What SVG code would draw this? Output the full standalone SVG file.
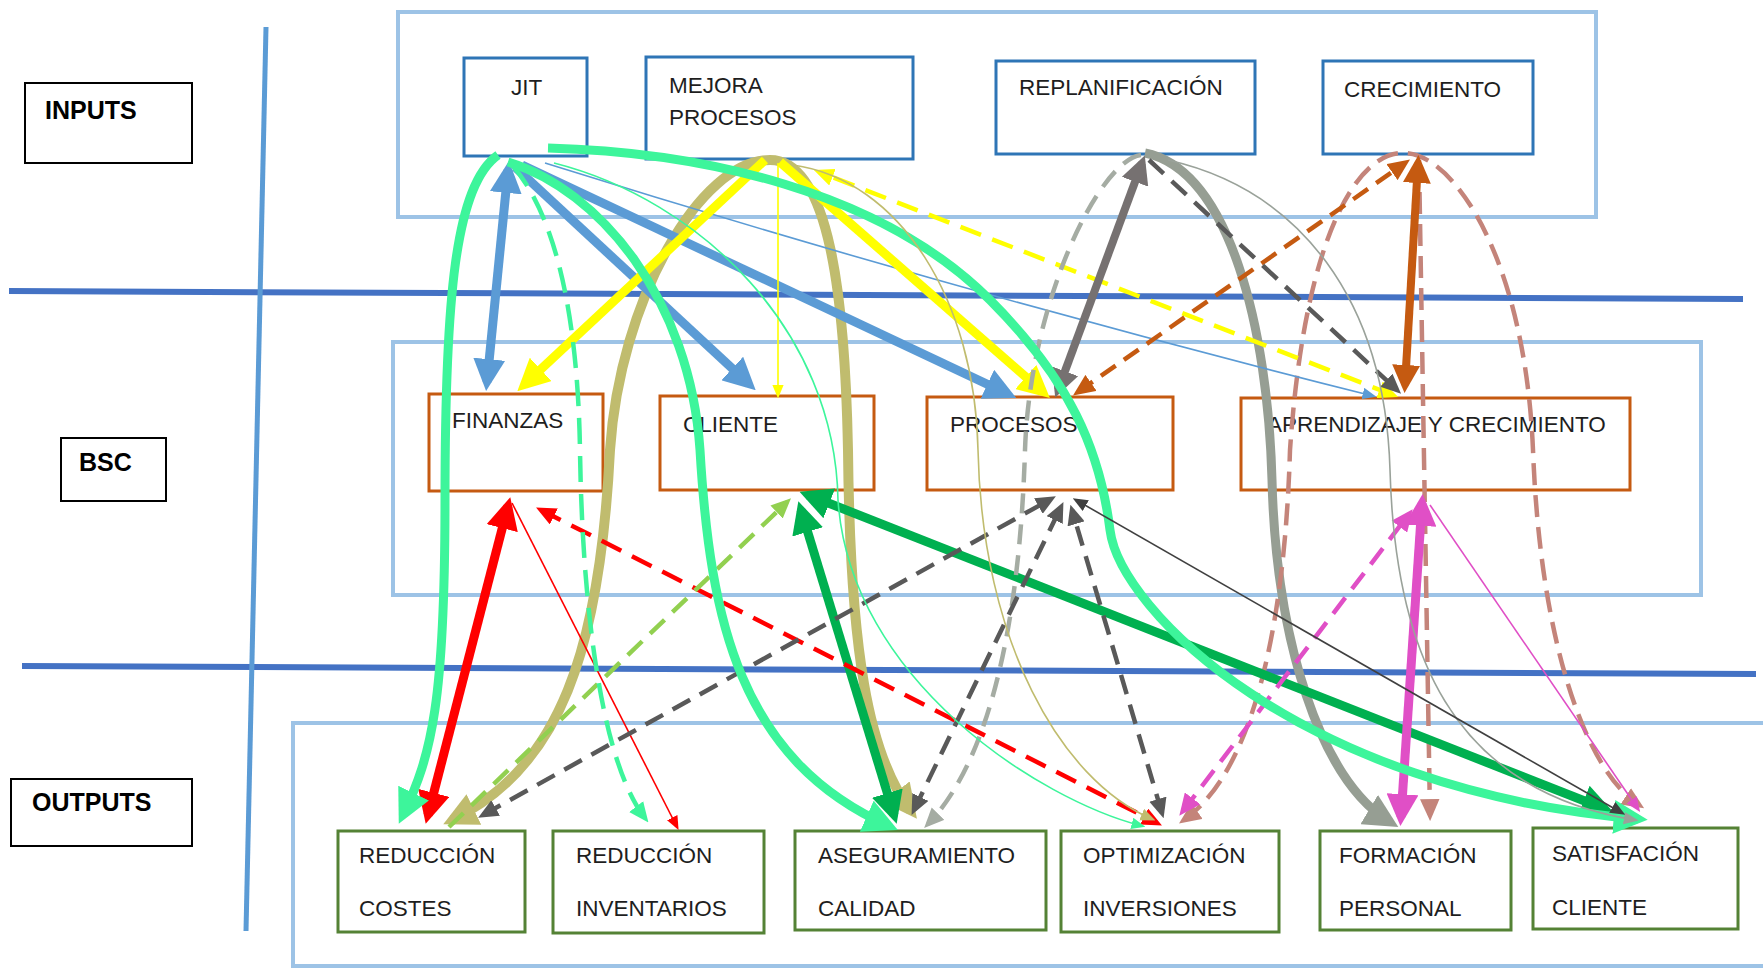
<svg xmlns="http://www.w3.org/2000/svg" width="1763" height="968" viewBox="0 0 1763 968">
  <style>
    .cont{fill:#fff;stroke:#9DC3E6;stroke-width:4}
    .lbl{fill:#fff;stroke:#000;stroke-width:2}
    .in{fill:#fff;stroke:#2E75B6;stroke-width:3}
    .bsc{fill:#fff;stroke:#C55A11;stroke-width:3}
    .out{fill:#fff;stroke:#548235;stroke-width:3}
    text{font-family:"Liberation Sans",Arial,sans-serif;font-size:22.5px;fill:#1e1e1e}
    text.b{font-weight:bold;font-size:25px;fill:#000}
    .sep{stroke:#4472C4;stroke-width:6;fill:none}
    .vsep{stroke:#5B9BD5;stroke-width:5;fill:none}
  </style>
  <defs>
    <!-- thick arrowheads -->
    <marker id="tBlue" viewBox="0 0 28 28" refX="20" refY="14" markerWidth="32" markerHeight="32" markerUnits="userSpaceOnUse" orient="auto-start-reverse"><path d="M0,0L28,14L0,28z" fill="#5B9BD5"/></marker>
    <marker id="tYellow" viewBox="0 0 28 28" refX="20" refY="14" markerWidth="32" markerHeight="32" markerUnits="userSpaceOnUse" orient="auto-start-reverse"><path d="M0,0L28,14L0,28z" fill="#FFFF00"/></marker>
    <marker id="tKhaki" viewBox="0 0 28 28" refX="20" refY="14" markerWidth="34" markerHeight="34" markerUnits="userSpaceOnUse" orient="auto-start-reverse"><path d="M0,0L28,14L0,28z" fill="#C0BC6E"/></marker>
    <marker id="tGreen" viewBox="0 0 28 28" refX="20" refY="14" markerWidth="34" markerHeight="34" markerUnits="userSpaceOnUse" orient="auto-start-reverse"><path d="M0,0L28,14L0,28z" fill="#3DF59B"/></marker>
    <marker id="tGrey" viewBox="0 0 28 28" refX="20" refY="14" markerWidth="28" markerHeight="28" markerUnits="userSpaceOnUse" orient="auto-start-reverse"><path d="M0,0L28,14L0,28z" fill="#767171"/></marker>
    <marker id="tGreyGreen" viewBox="0 0 28 28" refX="20" refY="14" markerWidth="34" markerHeight="34" markerUnits="userSpaceOnUse" orient="auto-start-reverse"><path d="M0,0L28,14L0,28z" fill="#969E93"/></marker>
    <marker id="tOrange" viewBox="0 0 28 28" refX="20" refY="14" markerWidth="28" markerHeight="28" markerUnits="userSpaceOnUse" orient="auto-start-reverse"><path d="M0,0L28,14L0,28z" fill="#C55A11"/></marker>
    <marker id="tRed" viewBox="0 0 28 28" refX="20" refY="14" markerWidth="32" markerHeight="32" markerUnits="userSpaceOnUse" orient="auto-start-reverse"><path d="M0,0L28,14L0,28z" fill="#FF0000"/></marker>
    <marker id="tDkGreen" viewBox="0 0 28 28" refX="20" refY="14" markerWidth="32" markerHeight="32" markerUnits="userSpaceOnUse" orient="auto-start-reverse"><path d="M0,0L28,14L0,28z" fill="#00B050"/></marker>
    <marker id="tMagenta" viewBox="0 0 28 28" refX="20" refY="14" markerWidth="32" markerHeight="32" markerUnits="userSpaceOnUse" orient="auto-start-reverse"><path d="M0,0L28,14L0,28z" fill="#E04FC6"/></marker>
    <!-- dashed-line arrowheads -->
    <marker id="mGreen" viewBox="0 0 18 16" refX="13" refY="8" markerWidth="20" markerHeight="18" markerUnits="userSpaceOnUse" orient="auto-start-reverse"><path d="M0,0L18,8L0,16z" fill="#3DF59B"/></marker>
    <marker id="mYellow" viewBox="0 0 18 16" refX="13" refY="8" markerWidth="20" markerHeight="18" markerUnits="userSpaceOnUse" orient="auto-start-reverse"><path d="M0,0L18,8L0,16z" fill="#FFFF00"/></marker>
    <marker id="mOrange" viewBox="0 0 18 16" refX="13" refY="8" markerWidth="22" markerHeight="20" markerUnits="userSpaceOnUse" orient="auto-start-reverse"><path d="M0,0L18,8L0,16z" fill="#C55A11"/></marker>
    <marker id="mPink" viewBox="0 0 18 16" refX="13" refY="8" markerWidth="22" markerHeight="20" markerUnits="userSpaceOnUse" orient="auto-start-reverse"><path d="M0,0L18,8L0,16z" fill="#C4847A"/></marker>
    <marker id="mDark" viewBox="0 0 18 16" refX="13" refY="8" markerWidth="20" markerHeight="18" markerUnits="userSpaceOnUse" orient="auto-start-reverse"><path d="M0,0L18,8L0,16z" fill="#595959"/></marker>
    <marker id="mGreyGreen" viewBox="0 0 18 16" refX="13" refY="8" markerWidth="20" markerHeight="18" markerUnits="userSpaceOnUse" orient="auto-start-reverse"><path d="M0,0L18,8L0,16z" fill="#A5ACA3"/></marker>
    <marker id="mRed" viewBox="0 0 18 16" refX="13" refY="8" markerWidth="20" markerHeight="18" markerUnits="userSpaceOnUse" orient="auto-start-reverse"><path d="M0,0L18,8L0,16z" fill="#FF0000"/></marker>
    <marker id="mLtGreen" viewBox="0 0 18 16" refX="13" refY="8" markerWidth="20" markerHeight="18" markerUnits="userSpaceOnUse" orient="auto-start-reverse"><path d="M0,0L18,8L0,16z" fill="#92D050"/></marker>
    <marker id="mMagenta" viewBox="0 0 18 16" refX="13" refY="8" markerWidth="22" markerHeight="20" markerUnits="userSpaceOnUse" orient="auto-start-reverse"><path d="M0,0L18,8L0,16z" fill="#E04FC6"/></marker>
    <!-- thin-line arrowheads -->
    <marker id="sBlue" viewBox="0 0 12 10" refX="9" refY="5" markerWidth="14" markerHeight="12" markerUnits="userSpaceOnUse" orient="auto-start-reverse"><path d="M0,0L12,5L0,10z" fill="#5B9BD5"/></marker>
    <marker id="sYellow" viewBox="0 0 12 10" refX="9" refY="5" markerWidth="14" markerHeight="12" markerUnits="userSpaceOnUse" orient="auto-start-reverse"><path d="M0,0L12,5L0,10z" fill="#FFFF00"/></marker>
    <marker id="sGreen" viewBox="0 0 12 10" refX="9" refY="5" markerWidth="14" markerHeight="12" markerUnits="userSpaceOnUse" orient="auto-start-reverse"><path d="M0,0L12,5L0,10z" fill="#3DF59B"/></marker>
    <marker id="sKhaki" viewBox="0 0 12 10" refX="9" refY="5" markerWidth="15" markerHeight="13" markerUnits="userSpaceOnUse" orient="auto-start-reverse"><path d="M0,0L12,5L0,10z" fill="#C0BC6E"/></marker>
    <marker id="sRed" viewBox="0 0 12 10" refX="9" refY="5" markerWidth="14" markerHeight="12" markerUnits="userSpaceOnUse" orient="auto-start-reverse"><path d="M0,0L12,5L0,10z" fill="#FF0000"/></marker>
    <marker id="sGrey" viewBox="0 0 12 10" refX="9" refY="5" markerWidth="15" markerHeight="13" markerUnits="userSpaceOnUse" orient="auto-start-reverse"><path d="M0,0L12,5L0,10z" fill="#9AA29A"/></marker>
    <marker id="sDark" viewBox="0 0 12 10" refX="9" refY="5" markerWidth="15" markerHeight="13" markerUnits="userSpaceOnUse" orient="auto-start-reverse"><path d="M0,0L12,5L0,10z" fill="#404040"/></marker>
    <marker id="sMagenta" viewBox="0 0 12 10" refX="9" refY="5" markerWidth="15" markerHeight="13" markerUnits="userSpaceOnUse" orient="auto-start-reverse"><path d="M0,0L12,5L0,10z" fill="#E04FC6"/></marker>
  </defs>

  <rect width="1763" height="968" fill="#fff"/>

  <!-- band containers -->
  <g id="bands">
    <rect class="cont" x="398" y="12" width="1198" height="205"/>
    <rect class="cont" x="393" y="342" width="1308" height="253"/>
    <rect class="cont" x="293" y="723" width="1490" height="243"/>
  </g>

  <!-- separator lines -->
  <g id="separators">
    <path class="sep" d="M9,291 L1743,299"/>
    <path class="sep" d="M22,666 L1756,674"/>
    <path class="vsep" d="M266,27 L246,931"/>
  </g>

  <!-- row labels -->
  <g id="label-inputs"><rect class="lbl" x="25" y="83" width="167" height="80"/><text class="b" x="45" y="119">INPUTS</text></g>
  <g id="label-bsc"><rect class="lbl" x="61" y="438" width="105" height="63"/><text class="b" x="79" y="471">BSC</text></g>
  <g id="label-outputs"><rect class="lbl" x="11" y="779" width="181" height="67"/><text class="b" x="32" y="811">OUTPUTS</text></g>

  <!-- inputs -->
  <g id="jit"><rect class="in" x="464" y="58" width="123" height="98"/><text x="511" y="95">JIT</text></g>
  <g id="mejora-procesos"><rect class="in" x="646" y="57" width="267" height="102"/><text x="669" y="93">MEJORA</text><text x="669" y="125">PROCESOS</text></g>
  <g id="replanificacion"><rect class="in" x="996" y="61" width="259" height="93"/><text x="1019" y="95">REPLANIFICACIÓN</text></g>
  <g id="crecimiento"><rect class="in" x="1323" y="61" width="210" height="93"/><text x="1344" y="97">CRECIMIENTO</text></g>

  <!-- balanced scorecard perspectives -->
  <g id="finanzas"><rect class="bsc" x="429" y="394" width="174" height="97"/><text x="452" y="428">FINANZAS</text></g>
  <g id="cliente"><rect class="bsc" x="660" y="396" width="214" height="94"/><text x="683" y="432">CLIENTE</text></g>
  <g id="procesos"><rect class="bsc" x="927" y="397" width="246" height="93"/><text x="950" y="432">PROCESOS</text></g>
  <g id="aprendizaje"><rect class="bsc" x="1241" y="398" width="389" height="92"/><text x="1267" y="432">APRENDIZAJE Y CRECIMIENTO</text></g>

  <!-- outputs -->
  <g id="reduccion-costes"><rect class="out" x="338" y="831" width="187" height="101"/><text x="359" y="863">REDUCCIÓN</text><text x="359" y="916">COSTES</text></g>
  <g id="reduccion-inventarios"><rect class="out" x="553" y="831" width="211" height="102"/><text x="576" y="863">REDUCCIÓN</text><text x="576" y="916">INVENTARIOS</text></g>
  <g id="aseguramiento-calidad"><rect class="out" x="795" y="831" width="251" height="99"/><text x="818" y="863">ASEGURAMIENTO</text><text x="818" y="916">CALIDAD</text></g>
  <g id="optimizacion-inversiones"><rect class="out" x="1061" y="831" width="218" height="101"/><text x="1083" y="863">OPTIMIZACIÓN</text><text x="1083" y="916">INVERSIONES</text></g>
  <g id="formacion-personal"><rect class="out" x="1320" y="831" width="191" height="99"/><text x="1339" y="863">FORMACIÓN</text><text x="1339" y="916">PERSONAL</text></g>
  <g id="satisfaccion-cliente"><rect class="out" x="1533" y="828" width="205" height="101"/><text x="1552" y="861">SATISFACIÓN</text><text x="1552" y="915">CLIENTE</text></g>

  <!-- connectors -->
  <g id="connectors" fill="none">
    <!-- Mejora procesos: arch to the two quality/cost outputs -->
    <path d="M452,820 C560,768 600,650 610,450 C620,300 700,160 770,160 C830,160 845,300 848,450 C850,650 868,755 911,811" stroke="#C0BC6E" stroke-width="10" marker-start="url(#tKhaki)" marker-end="url(#tKhaki)"/>
    <!-- Replanificación to Formación -->
    <path d="M1145,153 C1230,170 1268,330 1272,480 C1276,640 1320,780 1390,822" stroke="#969E93" stroke-width="9" marker-end="url(#tGreyGreen)"/>
    <!-- Crecimiento arch and drop -->
    <path d="M1184,820 C1255,770 1285,620 1290,450 C1305,230 1360,150 1405,153 C1455,155 1525,260 1533,450 C1540,640 1585,770 1639,805" stroke="#C4847A" stroke-width="4.5" stroke-dasharray="22 10" marker-start="url(#mPink)" marker-end="url(#mPink)"/>
    <path d="M1419,160 L1430,815" stroke="#C4847A" stroke-width="4.5" stroke-dasharray="22 10" marker-end="url(#mPink)"/>
    <!-- Cliente links -->
    <path d="M801,510 L894,815" stroke="#00B050" stroke-width="9" marker-start="url(#tDkGreen)" marker-end="url(#tDkGreen)"/>
    <path d="M808,495 L1605,809" stroke="#00B050" stroke-width="9" marker-start="url(#tDkGreen)" marker-end="url(#tDkGreen)"/>
    <!-- JIT blue links -->
    <path d="M508,170 L487,382" stroke="#5B9BD5" stroke-width="9" marker-start="url(#tBlue)" marker-end="url(#tBlue)"/>
    <path d="M515,167 L749,384" stroke="#5B9BD5" stroke-width="9" marker-end="url(#tBlue)"/>
    <path d="M522,165 L1008,394" stroke="#5B9BD5" stroke-width="9" marker-end="url(#tBlue)"/>
    <path d="M545,163 Q950,290 1373,396" stroke="#5B9BD5" stroke-width="1.6" marker-end="url(#sBlue)"/>
    <!-- Mejora procesos yellow links -->
    <path d="M765,160 L524,385" stroke="#FFFF00" stroke-width="9" marker-end="url(#tYellow)"/>
    <path d="M780,162 L1043,392" stroke="#FFFF00" stroke-width="9" marker-end="url(#tYellow)"/>
    <path d="M778,163 L778,395" stroke="#FFFF00" stroke-width="1.6" marker-end="url(#sYellow)"/>
    <path d="M1393,395 L819,172" stroke="#FFFF00" stroke-width="4.5" stroke-dasharray="22 12" marker-start="url(#mYellow)" marker-end="url(#mYellow)"/>
    <!-- Finanzas red links -->
    <path d="M508,506 L428,815" stroke="#FF0000" stroke-width="9" marker-start="url(#tRed)" marker-end="url(#tRed)"/>
    <path d="M512,503 L677,827" stroke="#FF0000" stroke-width="1.6" marker-end="url(#sRed)"/>
    <path d="M541,510 L1157,823" stroke="#FF0000" stroke-width="4.5" stroke-dasharray="22 12" marker-start="url(#mRed)" marker-end="url(#mRed)"/>
    <!-- Aprendizaje magenta links -->
    <path d="M1422,503 L1401,817" stroke="#E04FC6" stroke-width="9" marker-start="url(#tMagenta)" marker-end="url(#tMagenta)"/>
    <path d="M1183,811 L1409,514" stroke="#E04FC6" stroke-width="4.5" stroke-dasharray="20 11" marker-start="url(#mMagenta)" marker-end="url(#mMagenta)"/>
    <path d="M1430,505 L1638,809" stroke="#E04FC6" stroke-width="1.6" marker-end="url(#sMagenta)"/>
    <!-- Crecimiento orange links -->
    <path d="M1418,163 L1405,385" stroke="#C55A11" stroke-width="8" marker-start="url(#tOrange)" marker-end="url(#tOrange)"/>
    <path d="M1078,392 L1405,163" stroke="#C55A11" stroke-width="4.5" stroke-dasharray="18 10" marker-start="url(#mOrange)" marker-end="url(#mOrange)"/>
    <!-- Replanificación links -->
    <path d="M1142,163 L1058,390" stroke="#767171" stroke-width="8" marker-start="url(#tGrey)" marker-end="url(#tGrey)"/>
    <path d="M1149,160 L1397,390" stroke="#595959" stroke-width="4.5" stroke-dasharray="20 11" marker-end="url(#mDark)"/>
    <path d="M1141,155 C1100,160 1030,300 1025,450 C1020,620 990,760 928,824" stroke="#A5ACA3" stroke-width="4.5" stroke-dasharray="20 11" marker-end="url(#mGreyGreen)"/>
    <!-- Procesos dashed links -->
    <path d="M483,815 L1051,499" stroke="#595959" stroke-width="4.5" stroke-dasharray="20 11" marker-start="url(#mDark)" marker-end="url(#mDark)"/>
    <path d="M914,810 L1061,507" stroke="#595959" stroke-width="4.5" stroke-dasharray="20 11" marker-start="url(#mDark)" marker-end="url(#mDark)"/>
    <path d="M1162,813 L1072,510" stroke="#595959" stroke-width="4.5" stroke-dasharray="20 11" marker-start="url(#mDark)" marker-end="url(#mDark)"/>
    <!-- Reducción costes to Cliente -->
    <path d="M449,827 L787,502" stroke="#92D050" stroke-width="4.5" stroke-dasharray="20 11" marker-end="url(#mLtGreen)"/>
    <!-- JIT green links -->
    <path d="M512,165 C560,220 578,330 580,450 C582,600 600,760 645,818" stroke="#3DF59B" stroke-width="4.5" stroke-dasharray="26 12" marker-end="url(#mGreen)"/>
    <path d="M498,155 C455,185 445,300 445,500 S432,755 403,815" stroke="#3DF59B" stroke-width="9" marker-end="url(#tGreen)"/>
    <path d="M508,162 C600,190 690,300 700,450 C710,620 740,760 889,826" stroke="#3DF59B" stroke-width="9" marker-end="url(#tGreen)"/>
    <path d="M548,148 C700,152 880,190 990,300 C1070,380 1100,450 1110,530 C1120,610 1300,790 1638,819" stroke="#3DF59B" stroke-width="9" marker-end="url(#tGreen)"/>
    <!-- thin links -->
    <path d="M554,163 C700,200 835,330 838,500 C850,680 1040,800 1142,826" stroke="#3DF59B" stroke-width="1.6" marker-end="url(#sGreen)"/>
    <path d="M793,165 C900,180 975,300 978,450 C982,640 1060,780 1152,819" stroke="#C0BC6E" stroke-width="1.6" marker-end="url(#sKhaki)"/>
    <path d="M1168,160 C1300,190 1385,300 1390,470 C1395,650 1450,790 1635,820" stroke="#9AA29A" stroke-width="1.6" marker-end="url(#sGrey)"/>
    <path d="M1076,500 L1622,813" stroke="#404040" stroke-width="1.6" marker-start="url(#sDark)" marker-end="url(#sDark)"/>
  </g>
</svg>
